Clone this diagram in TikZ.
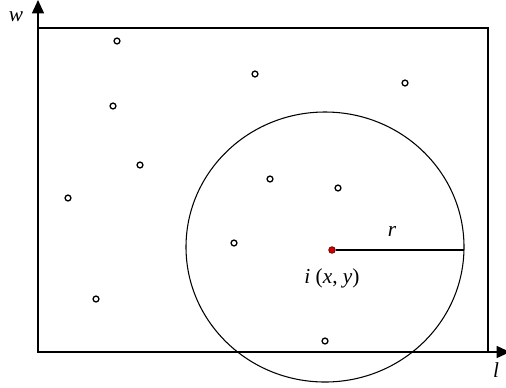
\documentclass[tikz,border=0pt]{standalone}
\usepackage{fontspec}
\setmainfont{Liberation Serif}
\definecolor{mInk}{HTML}{000000}
\definecolor{mDotRed}{HTML}{D00000}
\usetikzlibrary{arrows.meta}
\tikzset{
  sensor/.style={circle, draw=mInk, line width=1pt, fill=white, inner sep=0pt, minimum size=4.4pt},
  axisline/.style={-{Triangle[length=10pt,width=9pt]}, line width=1pt, mInk},
  varlab/.style={font=\fontsize{16}{18}\selectfont\itshape, inner sep=0pt},
}

\begin{document}
\begin{tikzpicture}[x=0.75pt, y=-0.75pt]
\useasboundingbox (0,0) rectangle (506,387);
\coordinate (orig) at (38,352);
\coordinate (wEnd) at (38,0);
\coordinate (lEnd) at (510,352);
\draw[line width=0.8pt, mInk] (38,28) rectangle (488,352);
\draw[axisline] (orig) -- (wEnd);
\draw[axisline] (orig) -- (lEnd);
\node[varlab] (wLab) at (16,17) {w};
\node[varlab] (lLab) at (496,370) {l};
% sensing range
\draw[line width=0.8pt, mInk] (325,247) ellipse [x radius=139, y radius=135];
\coordinate (rEnd) at (464,250);
\node[sensor] (s1) at (117,41) {};
\node[sensor] (s2) at (113,106) {};
\node[sensor] (s3) at (255,74) {};
\node[sensor] (s4) at (405,83) {};
\node[sensor] (s5) at (140,165) {};
\node[sensor] (s6) at (270,179) {};
\node[sensor] (s7) at (338,188) {};
\node[sensor] (s8) at (68,198) {};
\node[sensor] (s9) at (234,243) {};
\node[sensor] (s10) at (96,299) {};
\node[sensor] (s11) at (325,341) {};
\node[circle, fill=mDotRed, draw=mInk!60!mDotRed, line width=0.5pt, inner sep=0pt, minimum size=5pt] (nodeI) at (332,250) {};
\draw[line width=0.8pt, mInk] (nodeI) -- (rEnd);
\node[varlab] (rLab) at (392,231) {r};
\node[font=\fontsize{16}{18}\selectfont, inner sep=0pt] (iLab) at (332,278) {\textit{i} (\textit{x}, \textit{y})};
\end{tikzpicture}
\end{document}
